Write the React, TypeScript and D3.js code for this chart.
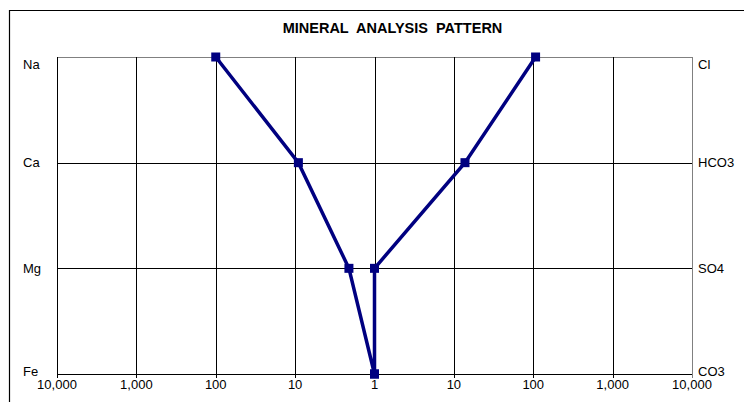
import React from "react";
import * as d3 from "d3";

const title = "MINERAL  ANALYSIS  PATTERN";
const cations = ["Na", "Ca", "Mg", "Fe"];
const anions = ["Cl", "HCO3", "SO4", "CO3"];
const cationValues = [100, 9.1, 2.1, 1.0];
const anionValues = [107, 13.8, 1.0, 1.0];
const tickValues = [10000, 1000, 100, 10, 1];

const W = 744;
const H = 402;
const left = 57;
const right = 692;
const top = 57;
const bottom = 374;
const center = (left + right) / 2;
const navy = "#000080";
const fontFamily = "'Liberation Sans', Arial, sans-serif";

export default function App() {
  const xCat = d3.scaleLog().domain([10000, 1]).range([left, center]);
  const xAn = d3.scaleLog().domain([1, 10000]).range([center, right]);
  const y = d3.scalePoint<number>().domain(d3.range(cations.length)).range([top, bottom]);
  const fmt = d3.format(",");

  const pts: [number, number][] = [];
  cations.forEach((c, i) => pts.push([xCat(cationValues[i]), y(i)!]));
  for (let i = anions.length - 1; i >= 0; i--) pts.push([xAn(anionValues[i]), y(i)!]);
  const line = d3.line();

  const labelY = (i: number) => {
    const c = Math.min(Math.max(y(i)!, top + 7), bottom - 3);
    return c + 4.5;
  };

  const gridX = [
    ...tickValues.map((t) => xCat(t)),
    ...tickValues.slice(0, -1).map((t) => xAn(t)),
  ];

  return (
    <div style={{ position: "absolute", left: 0, top: 0, width: W, height: H }}>
      <svg width={W} height={H} style={{ display: "block" }} fontFamily={fontFamily}>
        <rect x={0} y={0} width={W} height={H} fill="#fff" />
        <path d={`M${W},10.5H9.5V${H}`} fill="none" stroke="#000" strokeWidth={1.2} />
        <text x={392.5} y={33} textAnchor="middle" fontWeight="bold" fontSize={14.5} style={{ whiteSpace: "pre" }}>
          {title}
        </text>
        {cations.map((_, i) => (
          <line
            key={"h" + i}
            x1={left}
            x2={right}
            y1={Math.round(y(i)!) + 0.5}
            y2={Math.round(y(i)!) + 0.5}
            stroke={i === 0 ? "#808080" : "#000"}
            strokeWidth={1}
          />
        ))}
        {gridX.map((gx, i) => (
          <line
            key={"v" + i}
            x1={Math.round(gx) + 0.5}
            x2={Math.round(gx) + 0.5}
            y1={top}
            y2={bottom + 4}
            stroke={Math.abs(gx - right) < 1 ? "#808080" : "#000"}
            strokeWidth={1}
          />
        ))}
        {tickValues.map((t, i) => (
          <text key={"tl" + i} x={xCat(t)} y={389} textAnchor="middle" fontSize={13}>
            {fmt(t)}
          </text>
        ))}
        {tickValues.slice(0, -1).map((t, i) => (
          <text key={"tr" + i} x={xAn(t)} y={389} textAnchor="middle" fontSize={13}>
            {fmt(t)}
          </text>
        ))}
        {cations.map((c, i) => (
          <text key={"cl" + i} x={23} y={labelY(i)} fontSize={13}>
            {c}
          </text>
        ))}
        {anions.map((a, i) => (
          <text key={"al" + i} x={698} y={labelY(i)} fontSize={13}>
            {a}
          </text>
        ))}
        <path d={line(pts) || ""} fill="none" stroke={navy} strokeWidth={3.5} strokeLinejoin="miter" />
        {pts.map((p, i) => (
          <rect key={"m" + i} x={p[0] - 4.5} y={p[1] - 4.5} width={9} height={9} fill={navy} />
        ))}
      </svg>
    </div>
  );
}
